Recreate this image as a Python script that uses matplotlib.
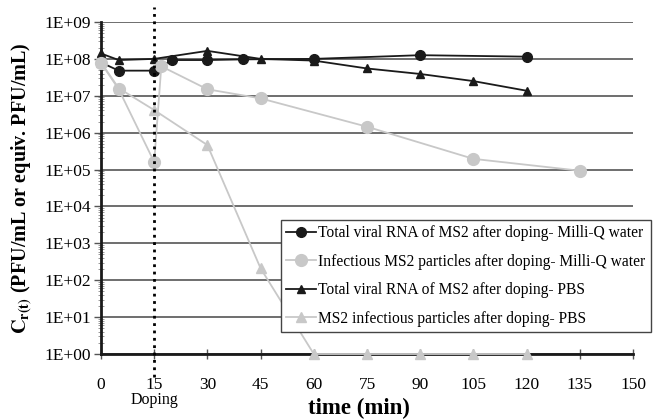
import numpy as np
import matplotlib
matplotlib.use("Agg")
import matplotlib.pyplot as plt
from matplotlib.ticker import LogLocator, FuncFormatter, NullFormatter

plt.rcParams['font.family'] = ['Liberation Serif', 'DejaVu Serif']
plt.rcParams['mathtext.fontset'] = 'stix'

# total viral RNA, Milli-Q (black circles)
t_rna_mq = [0, 5, 15, 20, 30, 40, 60, 90, 120]
v_rna_mq = [8e7, 4.8e7, 4.8e7, 9.3e7, 9.3e7, 9.7e7, 1.0e8, 1.26e8, 1.15e8]

# infectious particles, Milli-Q (grey circles)
t_inf_mq = [0, 5, 15, 17, 30, 45, 75, 105, 135]
v_inf_mq = [7.8e7, 1.5e7, 1.6e5, 6.3e7, 1.5e7, 8.5e6, 1.45e6, 1.95e5, 9.3e4]

# total viral RNA, PBS (black triangles)
t_rna_pbs = [0, 5, 15, 30, 45, 60, 75, 90, 105, 120]
v_rna_pbs = [1.4e8, 9.3e7, 1.0e8, 1.65e8, 1.0e8, 9e7, 5.5e7, 3.9e7, 2.5e7, 1.37e7]

# infectious particles, PBS (grey triangles)
t_inf_pbs = [0, 5, 15, 30, 45, 60, 75, 90, 105, 120]
v_inf_pbs = [8e7, 1.6e7, 4.1e6, 4.6e5, 2.1e2, 1, 1, 1, 1, 1]

labels = ["Total viral RNA of MS2 after doping- Milli-Q water",
          "Infectious MS2 particles after doping- Milli-Q water",
          "Total viral RNA of MS2 after doping- PBS",
          "MS2 infectious particles after doping- PBS"]

xticks = np.arange(0, 151, 15)

blk = '#1a1a1a'
gry = '#c8c8c8'

fig = plt.figure(figsize=(6.62, 4.2), dpi=100)
ax = fig.add_axes([101/662, 1-354/420, 532/662, 332/420])

ax.set_yscale('log')
ax.set_ylim(1, 1e9)
ax.set_xlim(0, 150)

ax.yaxis.grid(True, which='major', color='#555555', lw=1.2)
ax.set_axisbelow(True)

l1, = ax.plot(t_rna_mq, v_rna_mq, '-o', color=blk, ms=7, lw=1.3, clip_on=False, zorder=3)
l3, = ax.plot(t_rna_pbs, v_rna_pbs, '-^', color=blk, ms=6, lw=1.3, clip_on=False, zorder=3)
l2, = ax.plot(t_inf_mq, v_inf_mq, '-o', color=gry, ms=8.5, lw=1.3, clip_on=False, zorder=4)
l4, = ax.plot(t_inf_pbs, v_inf_pbs, '-^', color=gry, ms=7.5, lw=1.3, clip_on=False, zorder=5)

ax.axvline(15, ymin=-0.07, ymax=1.045, color='black', ls=':', lw=2, clip_on=False, zorder=6)

for s in ['top', 'right']:
    ax.spines[s].set_visible(False)
ax.spines['left'].set_linewidth(2)
ax.spines['bottom'].set_linewidth(2)
ax.spines['left'].set_color(blk)
ax.spines['bottom'].set_color(blk)

ax.set_xticks(xticks)
ax.tick_params(axis='x', direction='inout', length=7, width=1, color='#555555',
               pad=13, labelsize=12.5)
ax.yaxis.set_major_locator(LogLocator(base=10, numticks=20))
ax.yaxis.set_minor_locator(LogLocator(base=10, subs=np.arange(2, 10), numticks=20))
ax.yaxis.set_minor_formatter(NullFormatter())
ax.yaxis.set_major_formatter(FuncFormatter(lambda v, p: "1E+%02d" % round(np.log10(v))))
ax.tick_params(axis='y', which='major', direction='out', length=5, width=1,
               color='#555555', labelsize=12.5, pad=2)
ax.tick_params(axis='y', which='minor', direction='inout', length=4, width=0.6,
               color='#888888')

ax.set_xlabel("time (min)", fontsize=16.5, fontweight='bold')
ax.xaxis.label.set_va('center')
ax.xaxis.set_label_coords(0.485, -0.163)
ax.set_ylabel(r"$\mathbf{C_{r(t)}}$ (PFU/mL or equiv. PFU/mL)", fontsize=14.5,
              fontweight='bold', labelpad=8)

ax.text(15, -0.139, "Doping", transform=ax.get_xaxis_transform(), ha='center',
        va='center', fontsize=11.5)

leg = ax.legend([l1, l2, l3, l4], labels, loc='upper left', bbox_to_anchor=(0.338, 0.404),
                fontsize=11.2, frameon=True, fancybox=False, edgecolor='#444444',
                framealpha=1, handlelength=1.9, handletextpad=0.15, labelspacing=0.8,
                borderpad=0.35, borderaxespad=0)
leg.get_frame().set_linewidth(1)

fig.savefig("out.png", dpi=100)
